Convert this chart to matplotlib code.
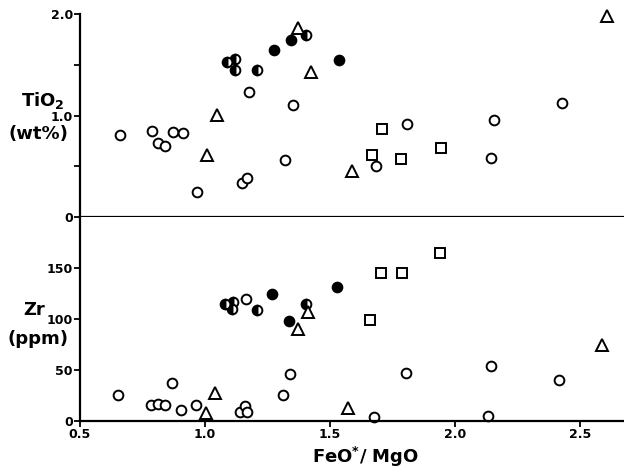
import matplotlib
matplotlib.use("Agg")
import matplotlib.pyplot as plt

plt.rcParams["font.family"] = ["DejaVu Sans"]
plt.rcParams["font.weight"] = "bold"
plt.rcParams["mathtext.fontset"] = "dejavusans"

# --- TiO2 (wt%) vs FeO*/MgO ---
ti_open_x = [0.66, 0.787, 0.813, 0.84, 0.871, 0.911, 0.969, 1.147, 1.167, 1.176,
             1.321, 1.353, 1.684, 1.809, 2.144, 2.156, 2.429]
ti_open_y = [0.81, 0.845, 0.73, 0.70, 0.84, 0.83, 0.25, 0.335, 0.385, 1.23,
             0.565, 1.105, 0.505, 0.92, 0.58, 0.955, 1.125]
ti_fill_x = [1.277, 1.344, 1.537]
ti_fill_y = [1.65, 1.745, 1.55]
ti_half_x = [1.087, 1.12, 1.12, 1.207, 1.403]
ti_half_y = [1.53, 1.56, 1.455, 1.455, 1.80]
ti_tri_x = [1.009, 1.047, 1.372, 1.424, 1.587, 2.609]
ti_tri_y = [0.61, 1.01, 1.86, 1.43, 0.45, 1.98]
ti_sq_x = [1.669, 1.707, 1.783, 1.943]
ti_sq_y = [0.61, 0.87, 0.575, 0.68]

# --- Zr (ppm) vs FeO*/MgO ---
zr_open_x = [0.653, 0.785, 0.812, 0.84, 0.867, 0.903, 0.963, 1.14, 1.16, 1.167,
             1.163, 1.313, 1.34, 1.678, 1.803, 2.133, 2.144, 2.416]
zr_open_y = [25, 16, 17, 16, 37, 11, 16, 9, 15, 9,
             120, 25, 46, 4, 47, 5, 54, 40]
zr_fill_x = [1.269, 1.337, 1.529]
zr_fill_y = [125, 98, 131]
zr_half_x = [1.08, 1.113, 1.107, 1.207, 1.403]
zr_half_y = [115, 117, 110, 109, 115]
zr_tri_x = [1.003, 1.04, 1.373, 1.413, 1.573, 2.587]
zr_tri_y = [8, 27, 90, 107, 13, 74]
zr_sq_x = [1.66, 1.703, 1.787, 1.94]
zr_sq_y = [99, 145, 145, 165]

XLIM = (0.5, 2.676)

fig = plt.figure(figsize=(6.24, 4.74), dpi=100)
ax_ti = fig.add_axes([0.128, 0.542, 0.872, 0.428])
ax_zr = fig.add_axes([0.128, 0.112, 0.872, 0.430])

style = dict(linestyle="none", color="black", markeredgewidth=1.4, clip_on=False)


def draw_points(ax, ox, oy, fx, fy, hx, hy, tx, ty, sx, sy):
    ax.plot(ox, oy, marker="o", markersize=7, markerfacecolor="white", **style)
    ax.plot(fx, fy, marker="o", markersize=7, markerfacecolor="black", **style)
    ax.plot(hx, hy, marker="o", markersize=7, fillstyle="left",
            markerfacecolor="black", markerfacecoloralt="white", **style)
    ax.plot(tx, ty, marker="^", markersize=9, markerfacecolor="white", **style)
    ax.plot(sx, sy, marker="s", markersize=6.5, markerfacecolor="white", **style)


draw_points(ax_ti, ti_open_x, ti_open_y, ti_fill_x, ti_fill_y, ti_half_x, ti_half_y,
            ti_tri_x, ti_tri_y, ti_sq_x, ti_sq_y)
draw_points(ax_zr, zr_open_x, zr_open_y, zr_fill_x, zr_fill_y, zr_half_x, zr_half_y,
            zr_tri_x, zr_tri_y, zr_sq_x, zr_sq_y)

for ax in (ax_ti, ax_zr):
    ax.set_xlim(*XLIM)
    for side in ("top", "right"):
        ax.spines[side].set_visible(False)
    for side in ("left", "bottom"):
        ax.spines[side].set_linewidth(1.6)
    ax.tick_params(axis="both", direction="out", length=4, width=1.3,
                   labelsize=9, pad=1)

# top panel
ax_ti.set_ylim(0, 2.0)
ax_ti.set_yticks([0, 0.5, 1.0, 1.5, 2.0])
ax_ti.set_yticklabels(["0", "", "1.0", "", "2.0"])
ax_ti.tick_params(axis="x", bottom=False, labelbottom=False)

# bottom panel
ax_zr.set_ylim(0, 200)
ax_zr.set_yticks([0, 50, 100, 150])
ax_zr.set_xticks([0.5, 1.0, 1.5, 2.0, 2.5])
ax_zr.set_xticklabels(["0.5", "1.0", "1.5", "2.0", "2.5"])

# axis titles, written horizontally beside the tick labels
fig.text(0.068, 0.789, r"$\mathbf{TiO_2}$", fontsize=13, ha="center", va="center")
fig.text(0.061, 0.717, "(wt%)", fontsize=13, ha="center", va="center",
         fontweight="bold")
fig.text(0.055, 0.346, "Zr", fontsize=13, ha="center", va="center",
         fontweight="bold")
fig.text(0.061, 0.285, "(ppm)", fontsize=13, ha="center", va="center",
         fontweight="bold")
fig.text(0.586, 0.036, r"FeO$^{\mathbf{*}}$/ MgO", fontsize=13, ha="center",
         va="center", fontweight="bold")

fig.savefig("out.png", dpi=100)
